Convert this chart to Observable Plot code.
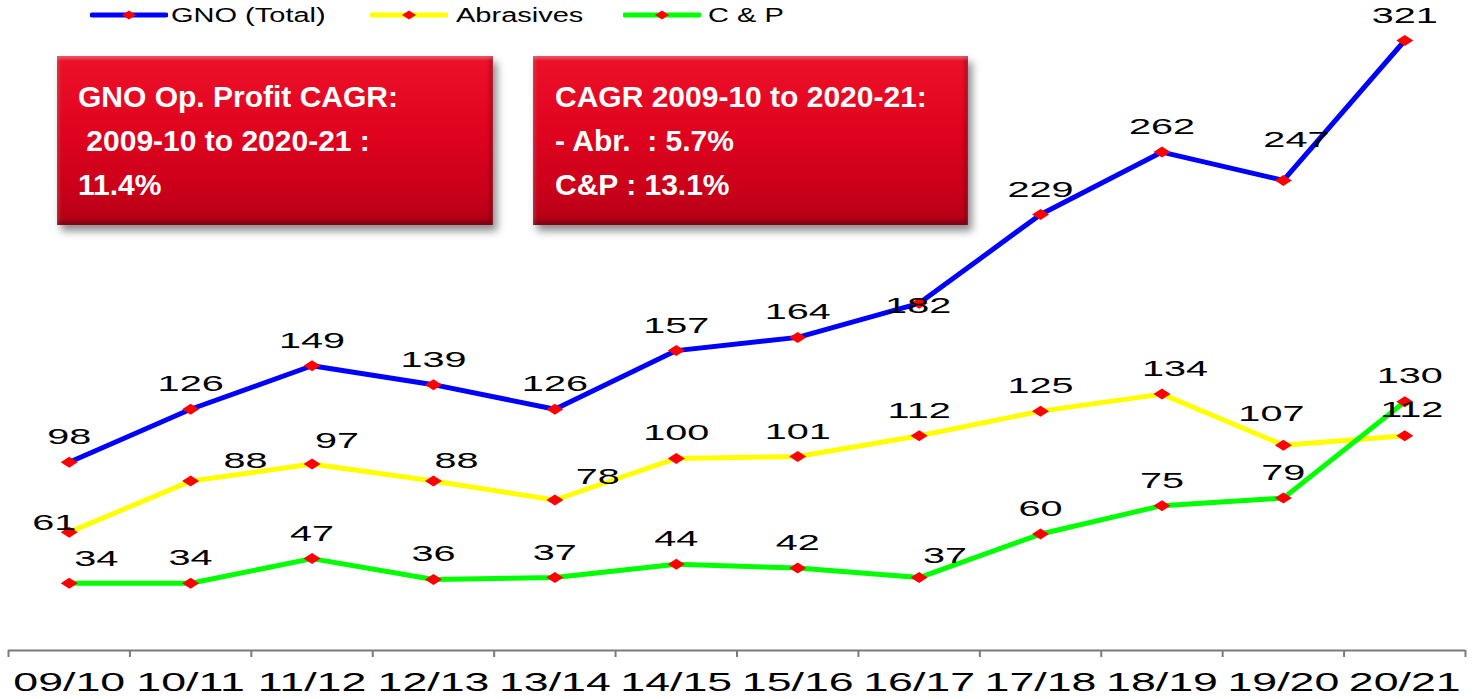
<!DOCTYPE html>
<html><head><meta charset="utf-8">
<script src="https://cdn.jsdelivr.net/npm/d3@7"></script>
<script src="https://cdn.jsdelivr.net/npm/@observablehq/plot@0.6"></script>
<style>
body{margin:0;background:#fff;font-family:"Liberation Sans",Arial,sans-serif;}
#wrap{position:relative;width:1472px;height:699px;overflow:hidden;background:#fff;}
#chart{position:absolute;left:0;top:0;}
.leg-sw{position:absolute;top:8px;}
.leg-tx{position:absolute;top:5px;font-size:20px;line-height:20px;color:#000;transform:scaleX(1.45);transform-origin:0 0;white-space:pre;}
.box{position:absolute;box-sizing:border-box;color:#fff;font-weight:bold;font-size:30px;line-height:44px;white-space:pre;
 background:linear-gradient(to bottom,#ee1129 0%,#e0031f 45%,#c90019 80%,#b20017 100%);
 box-shadow:4px 6px 8px rgba(0,0,0,0.45), inset 0 3px 3px rgba(255,255,255,0.28), inset 0 -4px 5px rgba(0,0,0,0.28), inset 3px 0 3px rgba(255,255,255,0.12), inset -3px 0 4px rgba(0,0,0,0.2);}
</style></head><body>
<div id="wrap">
  <div id="chart"></div>
  <div id="legend"></div>
  <div id="boxes"></div>
</div>
<script>
// ---- data ----
const years = ["09/10","10/11","11/12","12/13","13/14","14/15","15/16","16/17","17/18","18/19","19/20","20/21"];
const gnoTotal = [98,126,149,139,126,157,164,182,229,262,247,321];
const abrasives = [61,88,97,88,78,100,101,112,125,134,107,112];
const cAndP = [34,34,47,36,37,44,42,37,60,75,79,130];
const seriesNames = ["GNO (Total)","Abrasives","C & P"];
const box1Lines = ["GNO Op. Profit CAGR:"," 2009-10 to 2020-21 :","11.4%"];
const box2Lines = ["CAGR 2009-10 to 2020-21:","- Abr.  : 5.7%","C&P : 13.1%"];

// ---- styling / layout ----
const seriesColors = ["#0000ff","#ffff00","#00ff00"];
const markerColor = "#ff0000";
// label nudges (series index, point index, dx, dy) for labels placed off-centre
const nudges = [
  {s:0,i:7,dx:-1,dy:3},{s:0,i:10,dx:13,dy:-40},
  {s:1,i:0,dx:-15,dy:-9},{s:1,i:1,dx:55,dy:-20},{s:1,i:2,dx:25,dy:-23},{s:1,i:3,dx:23,dy:-20},
  {s:1,i:4,dx:43,dy:-23},{s:1,i:9,dx:13,dy:-25},{s:1,i:10,dx:-12,dy:-31},{s:1,i:11,dx:7,dy:-26},
  {s:2,i:0,dx:27,dy:-24},{s:2,i:7,dx:26,dy:-22},{s:2,i:11,dx:5,dy:-26}
];

const allSeries = [gnoTotal, abrasives, cAndP];
const rows = allSeries.flatMap((vals, s) => vals.map((v, i) => ({s, i, v, year: years[i], name: seriesNames[s]})));
const isNudged = d => nudges.some(n => n.s === d.s && n.i === d.i);

const flatDiamond = {
  draw(ctx) { const w = 8.5, h = 5.5; ctx.moveTo(-w,0); ctx.lineTo(0,-h); ctx.lineTo(w,0); ctx.lineTo(0,h); ctx.closePath(); }
};

const idx = d3.range(years.length);
const boundaries = d3.range(years.length + 1).map(k => k - 0.5);

const labelFont = {fontSize: 22, fill: "#000", fontFamily: "Liberation Sans, Arial, sans-serif", lineAnchor: "middle"};

const marks = [
  Plot.ruleY([0], {stroke: "#7a7a7a", strokeWidth: 2, dy: 3}),
  Plot.ruleX(boundaries, {x: d => d, y1: 0, y2: 0, insetTop: 3, insetBottom: -10, stroke: "#7a7a7a", strokeWidth: 2}),
  Plot.axisX({ticks: idx, tickFormat: i => years[i], tickSize: 0, tickPadding: 25, fontSize: 26, fill: "#000", label: null, fontFamily: "Liberation Sans, Arial, sans-serif"}),
  ...allSeries.map((vals, s) => Plot.line(rows.filter(d => d.s === s), {x: "i", y: "v", stroke: seriesColors[s], strokeWidth: 5, strokeLinejoin: "round"})),
  ...allSeries.map((vals, s) => Plot.dot(rows.filter(d => d.s === s), {x: "i", y: "v", symbol: flatDiamond, fill: markerColor, r: 5})),
  Plot.text(rows.filter(d => !isNudged(d)), {x: "i", y: "v", text: d => String(d.v), dy: -25, ...labelFont}),
  ...nudges.map(n => Plot.text(rows.filter(d => d.s === n.s && d.i === n.i), {x: "i", y: "v", text: d => String(d.v), dx: n.dx, dy: n.dy, ...labelFont}))
];

const chart = Plot.plot({
  width: 1472, height: 699,
  marginLeft: 8, marginRight: 7, marginTop: 40, marginBottom: 52,
  x: {domain: [-0.5, years.length - 0.5], label: null},
  y: {domain: [0, d3.max(gnoTotal)], axis: null},
  style: {background: "transparent", fontFamily: "Liberation Sans, Arial, sans-serif", overflow: "visible"},
  marks
});
document.getElementById("chart").appendChild(chart);

// horizontally stretch text around its own centre (the reference glyphs are widened)
function stretch(sel, s) {
  chart.querySelectorAll(sel).forEach(t => {
    const bb = t.getBBox();
    const cx = bb.x + bb.width / 2;
    const tr = t.getAttribute("transform") || "";
    t.setAttribute("transform", `${tr} translate(${cx},0) scale(${s},1) translate(${-cx},0)`);
  });
}
stretch('g[aria-label="text"] text', 1.8);
stretch('g[aria-label="x-axis tick label"] text', 1.72);

// ---- legend ----
const legendPos = [{sw: 90, tx: 171}, {sw: 370, tx: 456}, {sw: 623, tx: 708}];
const legend = document.getElementById("legend");
seriesNames.forEach((name, s) => {
  const sw = document.createElementNS("http://www.w3.org/2000/svg", "svg");
  sw.setAttribute("class", "leg-sw"); sw.setAttribute("width", 78); sw.setAttribute("height", 14);
  sw.style.left = legendPos[s].sw + "px";
  sw.innerHTML = `<line x1="2" y1="7" x2="76" y2="7" stroke="${seriesColors[s]}" stroke-width="5" stroke-linecap="round"/>
    <path d="M32,7 L39,2.5 L46,7 L39,11.5 Z" fill="${markerColor}"/>`;
  legend.appendChild(sw);
  const tx = document.createElement("div");
  tx.className = "leg-tx"; tx.style.left = legendPos[s].tx + "px"; tx.textContent = name;
  legend.appendChild(tx);
});

// ---- annotation boxes ----
const boxes = document.getElementById("boxes");
[[box1Lines, {left: 57, top: 56, width: 436, height: 169, padL: 21}], [box2Lines, {left: 533, top: 56, width: 435, height: 169, padL: 22}]].forEach(([lines, b]) => {
  const div = document.createElement("div");
  div.className = "box";
  Object.assign(div.style, {left: b.left + "px", top: b.top + "px", width: b.width + "px", height: b.height + "px", paddingLeft: b.padL + "px", paddingTop: "19px"});
  div.textContent = lines.join("\n");
  boxes.appendChild(div);
});
</script>
</body></html>
